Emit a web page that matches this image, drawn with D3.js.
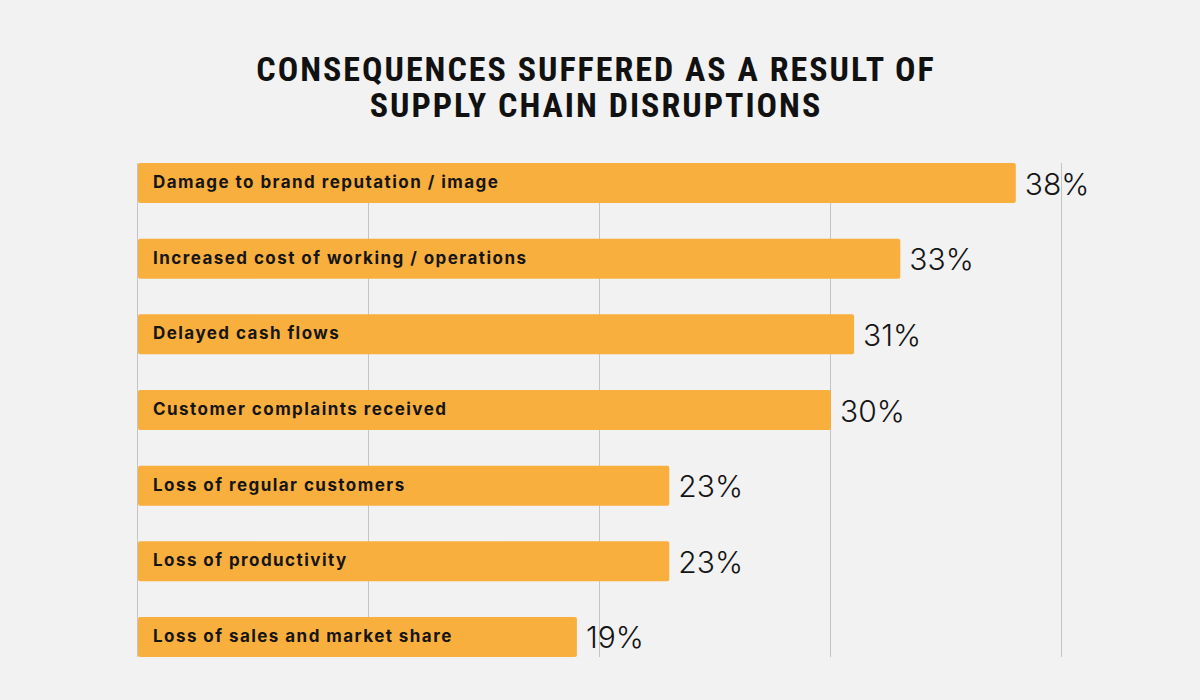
<!DOCTYPE html>
<meta charset="utf-8">
<head>
	<title>Supply chain disruptions</title>
	<script type="text/javascript" src="https://cdn.jsdelivr.net/npm/d3@7"></script>
	<style>
		body { margin: 0; background: #f2f2f2; }
		#chart svg { display: block; }
		.title { font-family: "Liberation Sans Narrow", "Roboto Condensed", sans-serif; font-weight: bold; font-size: 34px; fill: #111; letter-spacing: 2px; }
		.barlabel { font-family: "Inter", "Open Sans", sans-serif; font-weight: 700; font-size: 17px; fill: #151515; letter-spacing: 1.45px; }
		.value { font-family: "Inter", "Lato", sans-serif; font-weight: 300; font-size: 30px; fill: #151515; }
		.grid line { stroke: #c4c4c4; stroke-width: 1; }
	</style>
</head>
<body>
	<div id="chart"></div>

<script>
	// consequences
	var categories = [
		"Damage to brand reputation / image",
		"Increased cost of working / operations",
		"Delayed cash flows",
		"Customer complaints received",
		"Loss of regular customers",
		"Loss of productivity",
		"Loss of sales and market share"
	];
	var values = [38, 33, 31, 30, 23, 23, 19];
	var gridTicks = [0, 10, 20, 30, 40];
	var titleLines = ["CONSEQUENCES SUFFERED AS A RESULT OF", "SUPPLY CHAIN DISRUPTIONS"];

	var width = 1200, height = 700;

	var svg = d3.select("#chart").append("svg")
		.attr("width", width)
		.attr("height", height);

	svg.append("rect")
		.attr("width", width)
		.attr("height", height)
		.attr("fill", "#f2f2f2");

	var x = d3.scaleLinear().domain([0, 40]).range([138, 1062]);
	var y = d3.scaleBand().domain(categories).range([163, 657]).paddingInner(0.471).paddingOuter(0);

	// title
	svg.append("text")
		.attr("class", "title")
		.attr("text-anchor", "middle")
		.selectAll("tspan")
		.data(titleLines)
		.enter().append("tspan")
			.attr("x", 596)
			.attr("y", function(d, i) { return 81 + i * 36; })
			.text(function(d) { return d; });

	// gridlines
	svg.append("g")
		.attr("class", "grid")
		.selectAll("line")
		.data(gridTicks)
		.enter().append("line")
			.attr("x1", function(d) { return x(d) - 0.5; })
			.attr("x2", function(d) { return x(d) - 0.5; })
			.attr("y1", y.range()[0])
			.attr("y2", y.range()[1]);

	var rows = svg.append("g")
		.selectAll("g")
		.data(categories)
		.enter().append("g");

	rows.append("rect")
		.attr("x", x(0))
		.attr("y", function(d) { return y(d); })
		.attr("width", function(d, i) { return x(values[i]) - x(0); })
		.attr("height", y.bandwidth())
		.attr("rx", 2)
		.attr("fill", "#f9af3d");

	rows.append("text")
		.attr("class", "barlabel")
		.attr("x", x(0) + 15)
		.attr("y", function(d) { return y(d) + y.bandwidth() / 2 - 1; })
		.attr("dy", "0.35em")
		.text(function(d) { return d; });

	rows.append("text")
		.attr("class", "value")
		.attr("x", function(d, i) { return x(values[i]) + 9; })
		.attr("y", function(d) { return y(d) + y.bandwidth() / 2 + 1; })
		.attr("dy", "0.35em")
		.text(function(d, i) { return values[i] + "%"; });
</script>
</body>
